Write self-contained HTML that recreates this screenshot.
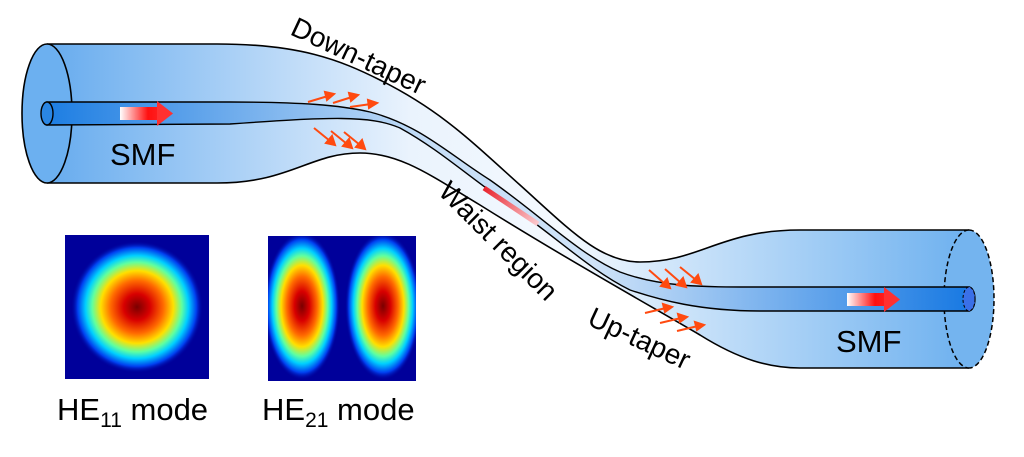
<!DOCTYPE html>
<html><head><meta charset="utf-8"><style>
html,body{margin:0;padding:0;background:#fff;}
svg{display:block;}
text{font-family:"Liberation Sans",sans-serif;}
</style></head><body>
<svg width="1024" height="457" viewBox="0 0 1024 457" xmlns="http://www.w3.org/2000/svg">
<defs>
<linearGradient id="clad" x1="0" y1="0" x2="1024" y2="0" gradientUnits="userSpaceOnUse">
<stop offset="0.04" stop-color="#64aaee"/>
<stop offset="0.40" stop-color="#eaf3fd"/>
<stop offset="0.55" stop-color="#f4f9fe"/>
<stop offset="0.95" stop-color="#6cb0ef"/>
</linearGradient>
<linearGradient id="core" x1="0" y1="0" x2="1024" y2="0" gradientUnits="userSpaceOnUse">
<stop offset="0.04" stop-color="#1a7ce2"/>
<stop offset="0.42" stop-color="#c6def7"/>
<stop offset="0.58" stop-color="#cfe3f8"/>
<stop offset="0.95" stop-color="#1678e2"/>
</linearGradient>
<linearGradient id="arr" x1="0" y1="0" x2="1" y2="0">
<stop offset="0" stop-color="#ffffff"/>
<stop offset="0.7" stop-color="#ff1010"/>
<stop offset="1" stop-color="#ff2020"/>
</linearGradient>
<linearGradient id="redseg" x1="483" y1="187" x2="540" y2="225" gradientUnits="userSpaceOnUse">
<stop offset="0" stop-color="#e8202a"/>
<stop offset="1" stop-color="#fbd0d4"/>
</linearGradient>
<radialGradient id="jet">
<stop offset="0" stop-color="#7a0000"/>
<stop offset="0.2" stop-color="#d80000"/>
<stop offset="0.4" stop-color="#ff6a00"/>
<stop offset="0.55" stop-color="#ffe000"/>
<stop offset="0.68" stop-color="#60ffa0"/>
<stop offset="0.78" stop-color="#00d0ff"/>
<stop offset="0.9" stop-color="#0040f0"/>
<stop offset="1" stop-color="#00009a" stop-opacity="0"/>
</radialGradient>
<clipPath id="c1"><rect x="65" y="235" width="144" height="144"/></clipPath>
<clipPath id="c2"><rect x="268" y="236" width="148" height="145"/></clipPath>
</defs>

<path d="M47,44 L217,44 C300,44 340,60 380,80 C440,110 470,140 520,185 C570,230 600,262 640,262 C700,262 720,230 800,230 L969,230 L969,368 L800,368 C770,368 740,360 700,335 C640,300 560,255 480,205 C430,175 400,153 360,153 C310,153 290,183 217,183 L47,183 Z" fill="url(#clad)"/>
<path d="M47,44 L217,44 C300,44 340,60 380,80 C440,110 470,140 520,185 C570,230 600,262 640,262 C700,262 720,230 800,230 L969,230" fill="none" stroke="#000" stroke-width="1.6"/>
<path d="M47,183 L217,183 C290,183 310,153 360,153 C400,153 430,175 480,205 C560,255 640,300 700,335 C740,360 770,368 800,368 L969,368" fill="none" stroke="#000" stroke-width="1.6"/>
<ellipse cx="969" cy="299" rx="25" ry="69" fill="#74b4ef"/>
<path d="M969,230 A25,69 0 0 1 969,368" fill="none" stroke="#000" stroke-width="1.5" stroke-dasharray="5,3"/>
<path d="M969,230 A25,69 0 0 0 969,368" fill="none" stroke="#000" stroke-width="1.5" stroke-dasharray="5,3"/>
<ellipse cx="47" cy="113.5" rx="25" ry="69.5" fill="#6cb0f0" stroke="#000" stroke-width="1.6"/>

<path d="M47,102 L230,102 C300,102 340,105 370,112 C420,125 450,155 490,180 C540,215 580,255 620,272 C660,287 700,287 760,287 L969,287 L969,311 L760,311 C700,311 660,300 630,290 C590,270 560,240 510,205 C470,178 440,150 400,128 C370,115 330,117 230,124 L47,125 Z" fill="url(#core)" stroke="#000" stroke-width="1.4"/>
<ellipse cx="47" cy="113.5" rx="6" ry="11.5" fill="#2a86e4" stroke="#000" stroke-width="1.4"/>
<path d="M969,287 A6,12 0 0 1 969,311" fill="none" stroke="#000" stroke-width="1.3"/>
<ellipse cx="969" cy="299" rx="6" ry="12" fill="#3a70e8" stroke="#000" stroke-width="1" stroke-dasharray="3,2"/>
<path d="M484,188 L538,224" stroke="url(#redseg)" stroke-width="5"/>

<g>
<rect x="120" y="107" width="40" height="13" fill="url(#arr)"/>
<polygon points="157,101 173,113.5 157,126" fill="#ff3030"/>
</g>
<g>
<rect x="847" y="293" width="40" height="13" fill="url(#arr)"/>
<polygon points="884,287 900,299.5 884,312" fill="#ff3030"/>
</g>

<g stroke="#ff4a10" stroke-width="2" fill="#ff4a10">
<line x1="308" y1="102" x2="328" y2="96"/><polygon points="334,94 325,92 327,100"/>
<line x1="333" y1="103" x2="352" y2="97"/><polygon points="358,95 349,93 351,101"/>
<line x1="350" y1="107" x2="371" y2="104"/><polygon points="377,103 368,100 369,108"/>
<line x1="314" y1="128" x2="330" y2="141"/><polygon points="335,145 326,143 332,136"/>
<line x1="331" y1="131" x2="347" y2="144"/><polygon points="352,148 343,146 349,139"/>
<line x1="344" y1="132" x2="360" y2="145"/><polygon points="365,149 356,147 362,140"/>
<line x1="649" y1="270" x2="665" y2="284"/><polygon points="670,288 661,286 667,279"/>
<line x1="665" y1="269" x2="681" y2="283"/><polygon points="686,287 677,285 683,278"/>
<line x1="680" y1="267" x2="696" y2="280"/><polygon points="701,284 692,282 698,275"/>
<line x1="645" y1="313" x2="666" y2="308"/><polygon points="672,307 663,304 665,312"/>
<line x1="660" y1="323" x2="681" y2="318"/><polygon points="687,317 678,314 680,322"/>
<line x1="677" y1="331" x2="698" y2="326"/><polygon points="704,325 695,322 697,330"/>
</g>

<text x="0" y="0" font-size="28" transform="translate(289,34) rotate(25)">Down-taper</text>
<text x="0" y="0" font-size="28" transform="translate(437,193) rotate(45)">Waist region</text>
<text x="0" y="0" font-size="28" transform="translate(586,324) rotate(25)">Up-taper</text>
<text x="110" y="165" font-size="31">SMF</text>
<text x="836" y="352" font-size="31">SMF</text>

<rect x="65" y="235" width="144" height="144" fill="#00009a"/>
<g clip-path="url(#c1)"><circle cx="137" cy="307" r="66" fill="url(#jet)"/></g>
<rect x="268" y="236" width="148" height="145" fill="#00009a"/>
<g clip-path="url(#c2)">
<ellipse cx="302" cy="306" rx="38" ry="74" fill="url(#jet)"/>
<ellipse cx="383" cy="306" rx="38" ry="74" fill="url(#jet)"/>
</g>
<text x="57" y="420" font-size="31">HE<tspan font-size="21" dy="7">11</tspan><tspan dy="-7"> mode</tspan></text>
<text x="262" y="420" font-size="31">HE<tspan font-size="21" dy="7">21</tspan><tspan dy="-7"> mode</tspan></text>
</svg>
</body></html>
